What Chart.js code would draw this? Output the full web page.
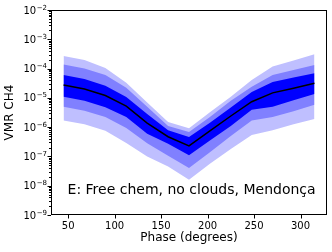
<!DOCTYPE html>
<html>
<head>
<meta charset="utf-8">
<script src="https://cdn.jsdelivr.net/npm/chart.js@4"></script>
<style>
  body { margin: 0; background: #fff; }
</style>
</head>
<body>
<canvas id="myChart" width="332" height="252"></canvas>
<script>

// phase grid (degrees) and the retrieved CH4 volume mixing ratios
const phases = [45, 67.5, 90, 112.5, 135, 157.5, 180, 202.5, 225, 247.5, 270, 292.5, 315];
const median = [2.75e-5, 2.0e-5, 1.2e-5, 5.25e-6, 1.38e-6, 4.7e-7, 2.3e-7, 7.4e-7, 2.4e-6, 7.4e-6, 1.48e-5, 2.14e-5, 3.16e-5];
const sig1Hi = [6.0e-5, 4.4e-5, 2.6e-5, 1.07e-5, 2.8e-6, 7.9e-7, 4.6e-7, 1.4e-6, 4.7e-6, 1.6e-5, 3.5e-5, 5.0e-5, 6.9e-5];
const sig1Lo = [1.1e-5, 7.9e-6, 4.8e-6, 2.2e-6, 6.0e-7, 2.7e-7, 1.1e-7, 3.5e-7, 1.1e-6, 3.9e-6, 5.0e-6, 8.3e-6, 1.35e-5];
const sig2Hi = [1.38e-4, 1.0e-4, 6.0e-5, 2.2e-5, 5.0e-6, 1.1e-6, 6.8e-7, 2.2e-6, 7.9e-6, 2.4e-5, 6.0e-5, 8.9e-5, 1.32e-4];
const sig2Lo = [5.0e-6, 3.6e-6, 2.2e-6, 9.3e-7, 2.8e-7, 1.05e-7, 4.0e-8, 1.4e-7, 5.0e-7, 1.7e-6, 2.2e-6, 3.5e-6, 5.8e-6];
const sig3Hi = [2.7e-4, 1.95e-4, 1.05e-4, 3.3e-5, 6.9e-6, 1.5e-6, 9.1e-7, 3.2e-6, 1.1e-5, 4.1e-5, 1.17e-4, 1.9e-4, 3.1e-4];
const sig3Lo = [1.7e-6, 1.26e-6, 7.6e-7, 2.9e-7, 1.0e-7, 4.5e-8, 1.6e-8, 5.6e-8, 1.8e-7, 5.4e-7, 7.9e-7, 1.26e-6, 1.9e-6];

const xTicks = [50, 100, 150, 200, 250, 300];
const yTicks = [1e-9, 1e-8, 1e-7, 1e-6, 1e-5, 1e-4, 1e-3, 1e-2];
const note = 'E: Free chem, no clouds, Mendonça';

function pts(arr) {
    return arr.map((v, i) => ({x: phases[i], y: v}));
}

function band(arr, color, order, fill) {
    return {
        data: pts(arr),
        borderColor: 'transparent',
        borderWidth: 0,
        backgroundColor: color,
        pointRadius: 0,
        fill: fill,
        order: order,
    };
}

// box around the axes, tick marks (major + minor), 10^n labels and the panel note
const framePlugin = {
    id: 'frame',
    afterDraw(chart) {
        const {ctx, chartArea: a, scales: {x, y}} = chart;
        ctx.save();
        ctx.strokeStyle = '#000';
        ctx.lineWidth = 1;
        ctx.beginPath();
        xTicks.forEach(v => {
            const px = Math.round(x.getPixelForValue(v)) + 0.5;
            ctx.moveTo(px, a.bottom);
            ctx.lineTo(px, a.bottom + 3.5);
        });
        for (let e = -9; e <= -2; e++) {
            const py = Math.round(y.getPixelForValue(10 ** e)) + 0.5;
            ctx.moveTo(a.left - 3.5, py);
            ctx.lineTo(a.left, py);
            if (e < -2) {
                for (let k = 2; k < 10; k++) {
                    const pm = Math.round(y.getPixelForValue(k * 10 ** e)) + 0.5;
                    ctx.moveTo(a.left - 2, pm);
                    ctx.lineTo(a.left, pm);
                }
            }
        }
        ctx.stroke();
        ctx.strokeRect(Math.round(a.left) + 0.5, Math.round(a.top) + 0.5,
            Math.round(a.width) - 1, Math.round(a.height) - 1);

        // y tick labels drawn as 10 with a raised exponent
        ctx.fillStyle = '#000';
        ctx.textAlign = 'right';
        ctx.textBaseline = 'alphabetic';
        yTicks.forEach(v => {
            const py = y.getPixelForValue(v);
            const ex = '\u2212' + Math.abs(Math.round(Math.log10(v)));
            const right = a.left - 4;
            ctx.font = '7px "DejaVu Sans"';
            const w = ctx.measureText(ex).width;
            ctx.fillText(ex, right, py - 0.5);
            ctx.font = '10px "DejaVu Sans"';
            ctx.fillText('10', right - w - 0.5, py + 3.6);
        });

        ctx.font = '14px "DejaVu Sans"';
        ctx.textBaseline = 'middle';
        ctx.textAlign = 'left';
        ctx.fillText(note, a.left + 0.06 * a.width, a.top + 0.88 * a.height);
        ctx.restore();
    }
};

Chart.defaults.font.family = '"DejaVu Sans", sans-serif';
Chart.defaults.color = '#000';

const config = {
    type: 'line',
    data: {
        datasets: [
            {
                data: pts(median),
                borderColor: '#000',
                borderWidth: 1.5,
                pointRadius: 0,
                fill: false,
                order: 0,
            },
            band(sig1Hi, '#0000ff', 1, '+1'),
            band(sig1Lo, '#0000ff', 1, false),
            band(sig2Hi, '#8080ff', 2, '+1'),
            band(sig2Lo, '#8080ff', 2, false),
            band(sig3Hi, '#bfbfff', 3, '+1'),
            band(sig3Lo, '#bfbfff', 3, false),
        ]
    },
    options: {
        responsive: false,
        animation: false,
        layout: {padding: {top: 10, right: 5, left: 0, bottom: 0}},
        plugins: {legend: {display: false}, tooltip: {enabled: false}},
        scales: {
            x: {
                type: 'linear',
                min: 31.5,
                max: 328.5,
                afterBuildTicks: s => { s.ticks = xTicks.map(v => ({value: v})); },
                afterFit: s => { s.height = 37; },
                grid: {display: false, drawTicks: false},
                border: {display: false},
                ticks: {font: {size: 10}, padding: 5, maxRotation: 0, autoSkip: false},
                title: {display: true, text: 'Phase (degrees)', font: {size: 12, lineHeight: 1.2}, padding: {top: 0, bottom: 7}},
            },
            y: {
                type: 'logarithmic',
                min: 1e-9,
                max: 1e-2,
                afterBuildTicks: s => { s.ticks = yTicks.map(v => ({value: v})); },
                afterFit: s => { s.width = 51; },
                grid: {display: false, drawTicks: false},
                border: {display: false},
                ticks: {display: false},
                title: {display: true, text: 'VMR CH4', font: {size: 12, lineHeight: 1.2}, padding: {top: 3, bottom: 0}},
            }
        }
    },
    plugins: [framePlugin]
};

new Chart(document.getElementById('myChart'), config);
</script>
</body>
</html>
